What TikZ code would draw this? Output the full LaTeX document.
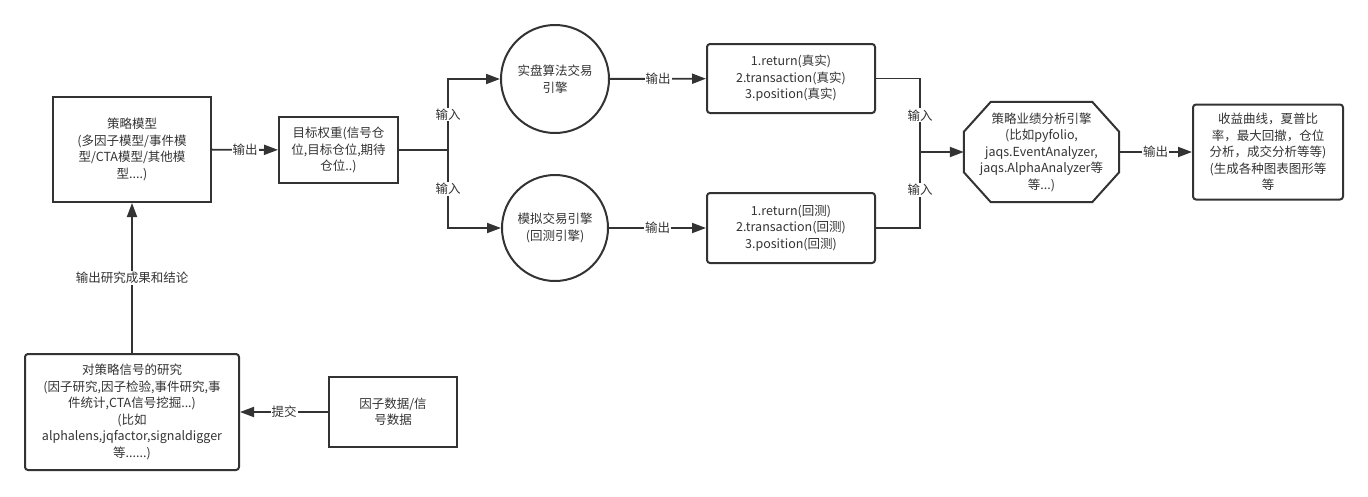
\documentclass[tikz,border=0pt]{standalone}
\usepackage{fontspec}
\setmainfont{Noto Sans CJK SC}
\usetikzlibrary{arrows.meta}
\definecolor{ink}{HTML}{333333}
\begin{document}
\begin{tikzpicture}[x=1pt,y=-1pt,
    every node/.style={text=ink,font=\fontsize{12.5}{16.5}\selectfont,align=center,inner sep=1pt},
    box/.style={draw=ink,line width=2pt,minimum width=#1},
    rbox/.style={box=#1,rounded corners=3pt},
    engine/.style={circle,draw=ink,line width=2pt},
    flow/.style={draw=ink,line width=1.9pt},
    arrow/.style={flow,-{Triangle[length=14pt,width=10pt]}},
    tag/.style={fill=white,inner sep=1pt}]
    \useasboundingbox (0,0) rectangle (1368,496);
    \node[box=158pt,minimum height=105pt] (model) at (132,149.5) {策略模型\\(多因子模型/事件模\\型/CTA模型/其他模\\型....)};
    \node[box=119pt,minimum height=66pt] (weight) at (338.5,150) {目标权重(信号仓\\位,目标仓位,期待\\仓位..)};
    \node[engine,minimum size=108pt] (live) at (555,79) {实盘算法交易\\引擎};
    \node[engine,minimum size=106pt] (sim) at (555,228) {模拟交易引擎\\(回测引擎)};
    \node[rbox=168pt,minimum height=69pt] (retlive) at (791,78.5) {1.return(真实)\\2.transaction(真实)\\3.position(真实)};
    \node[rbox=168pt,minimum height=70pt] (retsim) at (791,228) {1.return(回测)\\2.transaction(回测)\\3.position(回测)};
    \node[minimum width=155pt,minimum height=100pt] (perf) at (1041.5,152) {策略业绩分析引擎\\(比如pyfolio,\\jaqs.EventAnalyzer,\\jaqs.AlphaAnalyzer等\\等...)};
    \draw[box=0pt] ([xshift=27pt]perf.north west) -- ([xshift=-27pt]perf.north east) -- ([yshift=-30pt]perf.north east)
        -- ([yshift=30pt]perf.south east) -- ([xshift=-27pt]perf.south east) -- ([xshift=27pt]perf.south west)
        -- ([yshift=30pt]perf.south west) -- ([yshift=-30pt]perf.north west) -- cycle;
    \node[rbox=150pt,minimum height=95pt] (result) at (1268,152) {收益曲线，夏普比\\率，最大回撤，仓位\\分析，成交分析等等)\\(生成各种图表图形等\\等};
    \node[rbox=214pt,minimum height=116pt] (research) at (132,412) {对策略信号的研究\\(因子研究,因子检验,事件研究,事\\件统计,CTA信号挖掘...)\\(比如\\alphalens,jqfactor,signaldigger\\等......)};
    \node[box=128pt,minimum height=70pt] (data) at (393,412) {因子数据/信\\号数据};
    \coordinate (split) at (448,150);
    \coordinate (join) at (920,152);
    \draw[arrow] (model) -- node[tag] {输出} (weight);
    \draw[flow] (weight) -- (split);
    \draw[arrow] (split) |- node[tag,pos=0.25] {输入} (live);
    \draw[arrow] (split) |- node[tag,pos=0.25] {输入} (sim);
    \draw[arrow] (live) -- node[tag] {输出} (retlive);
    \draw[arrow] (sim) -- node[tag] {输出} (retsim);
    \draw[flow] (retlive) -| node[tag,pos=0.75] {输入} (join);
    \draw[flow] (retsim) -| node[tag,pos=0.75] {输入} (join);
    \draw[arrow] (join) -- (perf);
    \draw[arrow] (perf) -- node[tag] {输出} (result);
    \draw[arrow] (data) -- node[tag] {提交} (research);
    \draw[arrow] (research) -- node[tag] {输出研究成果和结论} (model);
\end{tikzpicture}
\end{document}
